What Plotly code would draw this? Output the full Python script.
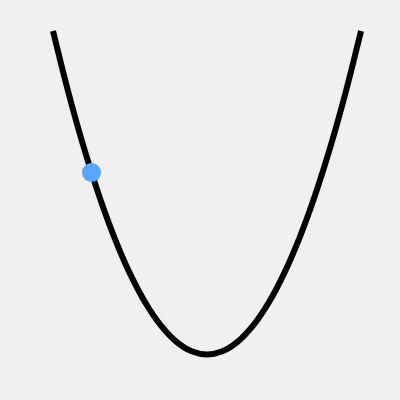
import plotly.graph_objects as go

curve_x = [-1.0, -0.9, -0.8, -0.7, -0.6, -0.5, -0.4, -0.3, -0.2, -0.1, 0.0,
           0.1, 0.2, 0.3, 0.4, 0.5, 0.6, 0.7, 0.8, 0.9, 1.0]
curve_y = [1.0, 0.81, 0.64, 0.49, 0.36, 0.25, 0.16, 0.09, 0.04, 0.01, 0.0,
           0.01, 0.04, 0.09, 0.16, 0.25, 0.36, 0.49, 0.64, 0.81, 1.0]
dot_x = [-0.75]
dot_y = [0.5625]

fig = go.Figure()
fig.add_trace(go.Scatter(x=curve_x, y=curve_y, mode="lines",
                         line=dict(color="black", width=6, shape="spline"),
                         hoverinfo="skip"))
fig.add_trace(go.Scatter(x=dot_x, y=dot_y, mode="markers",
                         marker=dict(color="#58a6ff", size=19, line=dict(width=0))))
fig.update_layout(width=400, height=400, margin=dict(l=0, r=0, t=0, b=0),
                  paper_bgcolor="#f0f0f0", plot_bgcolor="#f0f0f0",
                  showlegend=False)
fig.update_xaxes(range=[-1.3442, 1.2532], visible=False, fixedrange=True)
fig.update_yaxes(range=[-0.1406, 1.0958], visible=False, fixedrange=True)
fig.write_html("out.html", config={"displayModeBar": False},
               post_script="document.body.style.margin='0';document.body.style.background='#f0f0f0';document.body.style.overflow='hidden';")
